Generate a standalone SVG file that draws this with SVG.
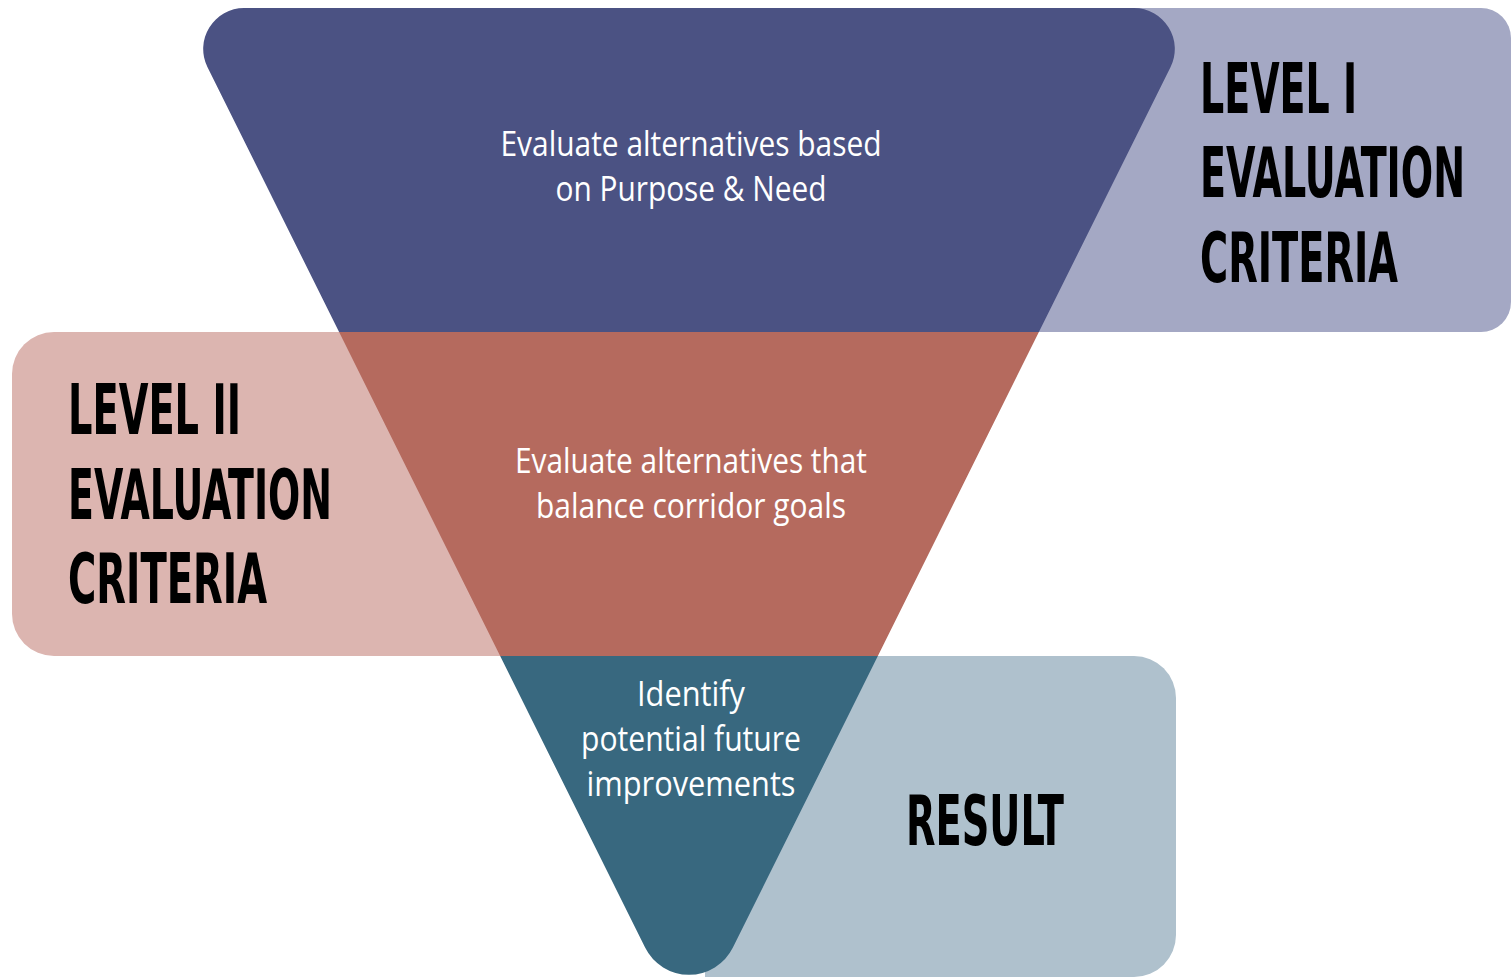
<svg xmlns="http://www.w3.org/2000/svg" width="1511" height="977" viewBox="0 0 1511 977">
  <style>
    .title { font-family: 'DejaVu Sans Condensed','Liberation Sans Narrow','Liberation Sans',sans-serif; font-weight: 700; font-size: 69px; fill: #000; }
    .body { font-family: 'Open Sans','Liberation Sans',sans-serif; font-size: 34px; fill: #ffffff; text-anchor: middle; }
  </style>
  <defs>
    <clipPath id="tri">
      <path d="M 244 8 L 1134 8 A 41 41 0 0 1 1170.6 67.1 L 732.9 947.6 A 49 49 0 0 1 645.1 947.6 L 207.4 67.1 A 41 41 0 0 1 244 8 Z"/>
    </clipPath>
  </defs>
  <rect width="1511" height="977" fill="#ffffff"/>

  <g id="level1-box">
    <path d="M 900 8 L 1481 8 A 30 30 0 0 1 1511 38 L 1511 302 A 30 30 0 0 1 1481 332 L 900 332 Z" fill="#A4A8C4"/>
    <text class="title" transform="translate(1200,113) scale(0.6,1)" textLength="261.7" lengthAdjust="spacingAndGlyphs">LEVEL I</text>
    <text class="title" transform="translate(1200,197) scale(0.6,1)" textLength="441.7" lengthAdjust="spacingAndGlyphs">EVALUATION</text>
    <text class="title" transform="translate(1200,282) scale(0.6,1)" textLength="330" lengthAdjust="spacingAndGlyphs">CRITERIA</text>
  </g>

  <g id="level2-box">
    <path d="M 54 332 L 620 332 L 620 656 L 54 656 A 42 42 0 0 1 12 614 L 12 374 A 42 42 0 0 1 54 332 Z" fill="#DCB5B0"/>
    <text class="title" transform="translate(68,434) scale(0.6,1)" textLength="288.3" lengthAdjust="spacingAndGlyphs">LEVEL II</text>
    <text class="title" transform="translate(68,519) scale(0.6,1)" textLength="440" lengthAdjust="spacingAndGlyphs">EVALUATION</text>
    <text class="title" transform="translate(68,603) scale(0.6,1)" textLength="331.7" lengthAdjust="spacingAndGlyphs">CRITERIA</text>
  </g>

  <g id="result-box">
    <path d="M 705 656 L 1134 656 A 42 42 0 0 1 1176 698 L 1176 935 A 42 42 0 0 1 1134 977 L 705 977 Z" fill="#AFC1CD"/>
    <text class="title" transform="translate(906,845) scale(0.6,1)" textLength="263.3" lengthAdjust="spacingAndGlyphs">RESULT</text>
  </g>

  <g id="triangle" clip-path="url(#tri)">
    <rect x="150" y="0" width="1100" height="332" fill="#4B5283"/>
    <rect x="150" y="332" width="1100" height="324" fill="#B56A5E"/>
    <rect x="150" y="656" width="1100" height="330" fill="#38687F"/>
  </g>

  <g id="tier1">
    <text class="body" x="691" y="156" textLength="381" lengthAdjust="spacingAndGlyphs">Evaluate alternatives based</text>
    <text class="body" x="691" y="201" textLength="271" lengthAdjust="spacingAndGlyphs">on Purpose &amp; Need</text>
  </g>
  <g id="tier2">
    <text class="body" x="691" y="473" textLength="352" lengthAdjust="spacingAndGlyphs">Evaluate alternatives that</text>
    <text class="body" x="691" y="518" textLength="310" lengthAdjust="spacingAndGlyphs">balance corridor goals</text>
  </g>
  <g id="tier3">
    <text class="body" x="691" y="706" textLength="108" lengthAdjust="spacingAndGlyphs">Identify</text>
    <text class="body" x="691" y="751" textLength="220" lengthAdjust="spacingAndGlyphs">potential future</text>
    <text class="body" x="691" y="796" textLength="209" lengthAdjust="spacingAndGlyphs">improvements</text>
  </g>
</svg>
